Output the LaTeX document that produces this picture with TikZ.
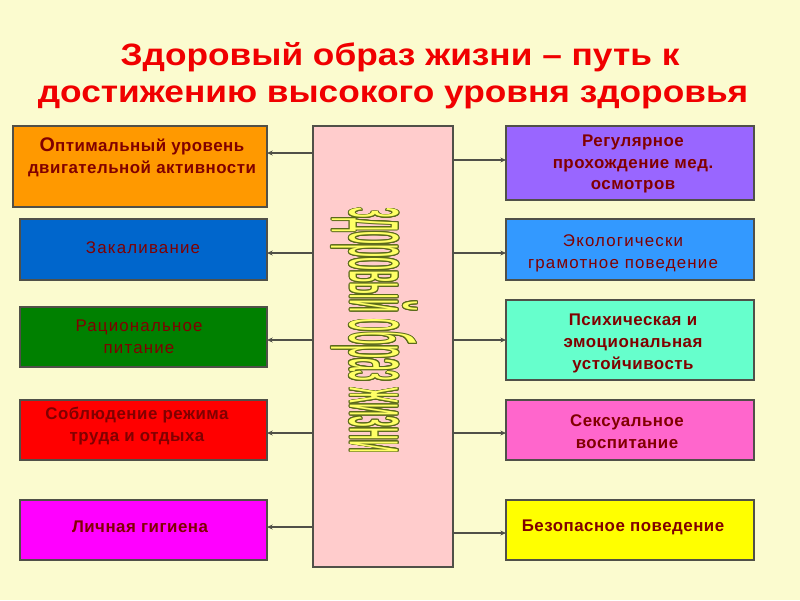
\documentclass[tikz,border=0pt]{standalone}
\usepackage{fontspec}
\setmainfont{Liberation Sans}
\newfontfamily\wordart[FakeStretch=0.3]{Liberation Sans}
\newfontfamily\lblfont[LetterSpace=3]{Liberation Sans}
\newfontfamily\lblregfont[LetterSpace=7]{Liberation Sans}
\usepackage{contour}
\contourlength{0.12pt}
\usetikzlibrary{arrows.meta}
\definecolor{bg}{HTML}{FBFBCF}
\definecolor{txt}{HTML}{800000}
\definecolor{ttl}{HTML}{F00000}
\definecolor{edge}{HTML}{505048}
\definecolor{cOrange}{HTML}{FF9900}
\definecolor{cBlue}{HTML}{0066CC}
\definecolor{cGreen}{HTML}{008000}
\definecolor{cRed}{HTML}{FF0000}
\definecolor{cMag}{HTML}{FF00FF}
\definecolor{cPurple}{HTML}{9966FF}
\definecolor{cLBlue}{HTML}{3399FF}
\definecolor{cAqua}{HTML}{66FFCC}
\definecolor{cPink}{HTML}{FF66CC}
\definecolor{cYellow}{HTML}{FFFF00}
\definecolor{cCenter}{HTML}{FFCCCC}
\definecolor{waFill}{HTML}{FFFF66}
\definecolor{waLine}{HTML}{5A6A1A}
\tikzset{
  box/.style={draw=edge, line width=0.9pt, inner sep=0pt, outer sep=0pt},
  lbl/.style={text=txt, font=\lblfont\fontsize{12}{15.6}\selectfont\bfseries, align=center, inner sep=0pt},
  lblr/.style={text=txt, font=\lblregfont\fontsize{12}{15.6}\selectfont, align=center, inner sep=0pt},
  ttlstyle/.style={text=ttl, font=\fontsize{22}{28}\selectfont\bfseries, inner sep=0pt, anchor=base, xscale=1.14},
  conn/.style={draw=edge, line width=1pt, -{Stealth[length=4pt,width=3.5pt]}},
}
\begin{document}
\begin{tikzpicture}[x=0.025cm,y=-0.025cm]
\useasboundingbox (0,0) rectangle (800,600);
\fill[bg] (0,0) rectangle (800,600);
% title
\node[ttlstyle] (title1) at (400,65) {Здоровый образ жизни – путь к};
\node[ttlstyle] (title2) at (393,102) {достижению высокого уровня здоровья};
% center box
\node[box, fill=cCenter, minimum width=3.5cm, minimum height=11.025cm] (C) at (383,346.5) {};
\node[rotate=-90, inner sep=0pt] (Ct) at (373.5,330.5)
  {\resizebox*{6.125cm}{2.175cm}{\wordart\fontsize{10}{12}\selectfont\contour{waLine}{\color{waFill}здоровый образ жизни}}};
% left boxes
\node[box, fill=cOrange, minimum width=6.35cm, minimum height=2.025cm] (L1) at (140,166.5) {};
\node[box, fill=cBlue, minimum width=6.175cm, minimum height=1.525cm] (L2) at (143.5,249.5) {};
\node[box, fill=cGreen, minimum width=6.175cm, minimum height=1.5cm] (L3) at (143.5,337) {};
\node[box, fill=cRed, minimum width=6.175cm, minimum height=1.5cm] (L4) at (143.5,430) {};
\node[box, fill=cMag, minimum width=6.175cm, minimum height=1.5cm] (L5) at (143.5,530) {};
% right boxes
\node[box, fill=cPurple, minimum width=6.2cm, minimum height=1.85cm] (R1) at (630,163) {};
\node[box, fill=cLBlue, minimum width=6.2cm, minimum height=1.525cm] (R2) at (630,249.5) {};
\node[box, fill=cAqua, minimum width=6.2cm, minimum height=2cm] (R3) at (630,340) {};
\node[box, fill=cPink, minimum width=6.2cm, minimum height=1.5cm] (R4) at (630,430) {};
\node[box, fill=cYellow, minimum width=6.2cm, minimum height=1.5cm] (R5) at (630,530) {};
% labels
\node[lbl] (L1t) at (142,157) {{\fontsize{14}{15.6}\selectfont О}птимальный уровень\\двигательной активности};
\node[lblr] (L2t) at (143,248) {Закаливание};
\node[lblr] (L3t) at (139,337) {Рациональное\\питание};
\node[lbl] (L4t) at (137,426) {Соблюдение режима\\труда и отдыха};
\node[lbl] (L5t) at (140,527) {Личная гигиена};
\node[lbl] (R1t) at (633,164) {Регулярное\\прохождение мед.\\осмотров};
\node[lblr] (R2t) at (623,253) {Экологически\\грамотное поведение};
\node[lbl] (R3t) at (633,343) {Психическая и\\эмоциональная\\устойчивость};
\node[lbl] (R4t) at (627,432) {Сексуальное\\воспитание};
\node[lbl] (R5t) at (623,527) {Безопасное поведение};
% connectors
\draw[conn] (C.west |- 0,153) -- (L1.east |- 0,153);
\draw[conn] (C.west |- 0,253) -- (L2.east |- 0,253);
\draw[conn] (C.west |- 0,340) -- (L3.east |- 0,340);
\draw[conn] (C.west |- 0,433) -- (L4.east |- 0,433);
\draw[conn] (C.west |- 0,527) -- (L5.east |- 0,527);
\draw[conn] (C.east |- 0,160) -- (R1.west |- 0,160);
\draw[conn] (C.east |- 0,253) -- (R2.west |- 0,253);
\draw[conn] (C.east |- 0,340) -- (R3.west |- 0,340);
\draw[conn] (C.east |- 0,433) -- (R4.west |- 0,433);
\draw[conn] (C.east |- 0,533) -- (R5.west |- 0,533);
\end{tikzpicture}
\end{document}
